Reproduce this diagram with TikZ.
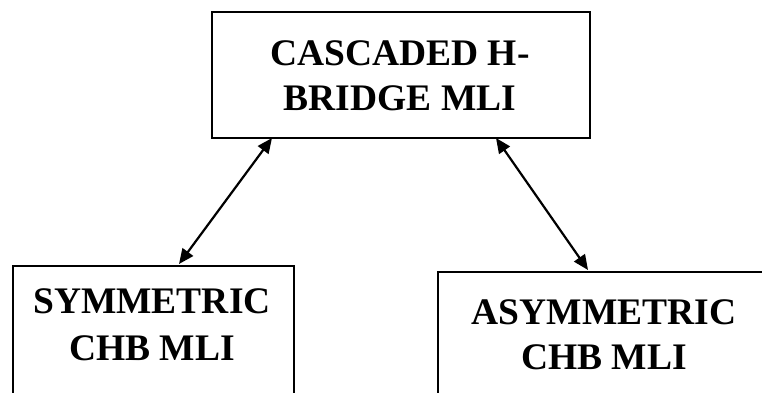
\documentclass[tikz,border=0pt]{standalone}
\usepackage{fontspec}
\setmainfont{Liberation Serif}
\usetikzlibrary{arrows.meta}
\begin{document}
\begin{tikzpicture}[x=1pt,y=-1pt,
  boxshape/.style={draw=black, line width=2.4pt, inner sep=0pt, anchor=north west},
  label/.style={font=\bfseries\fontsize{37.5}{46}\selectfont, align=center, inner sep=0pt, anchor=base},
  link/.style={line width=2.2pt, {Triangle[length=15pt,width=13pt]}-{Triangle[length=15pt,width=13pt]}}]
\useasboundingbox (0,0) rectangle (762,392);
\begin{scope}
\clip (0,0) rectangle (762,392);
\node[boxshape, minimum width=378pt, minimum height=126pt] (top) at (211,11) {};
\node[boxshape, minimum width=281pt, minimum height=160pt] (left) at (12,265) {};
\node[boxshape, minimum width=360pt, minimum height=160pt] (right) at (437,271) {};
\end{scope}
\node[label] (t1) at (400,65) {CASCADED H-};
\node[label] (t2) at (400,110) {BRIDGE MLI};
\node[label] (l1) at (152,313) {SYMMETRIC};
\node[label] (l2) at (152,360) {CHB MLI};
\node[label] (r1) at (604,324) {ASYMMETRIC};
\node[label] (r2) at (604,369) {CHB MLI};
\coordinate (ta) at (272,138);
\coordinate (la) at (179,264);
\coordinate (tb) at (496,138);
\coordinate (rb) at (588,270);
\draw[link] (ta) -- (la);
\draw[link] (tb) -- (rb);
\end{tikzpicture}
\end{document}
